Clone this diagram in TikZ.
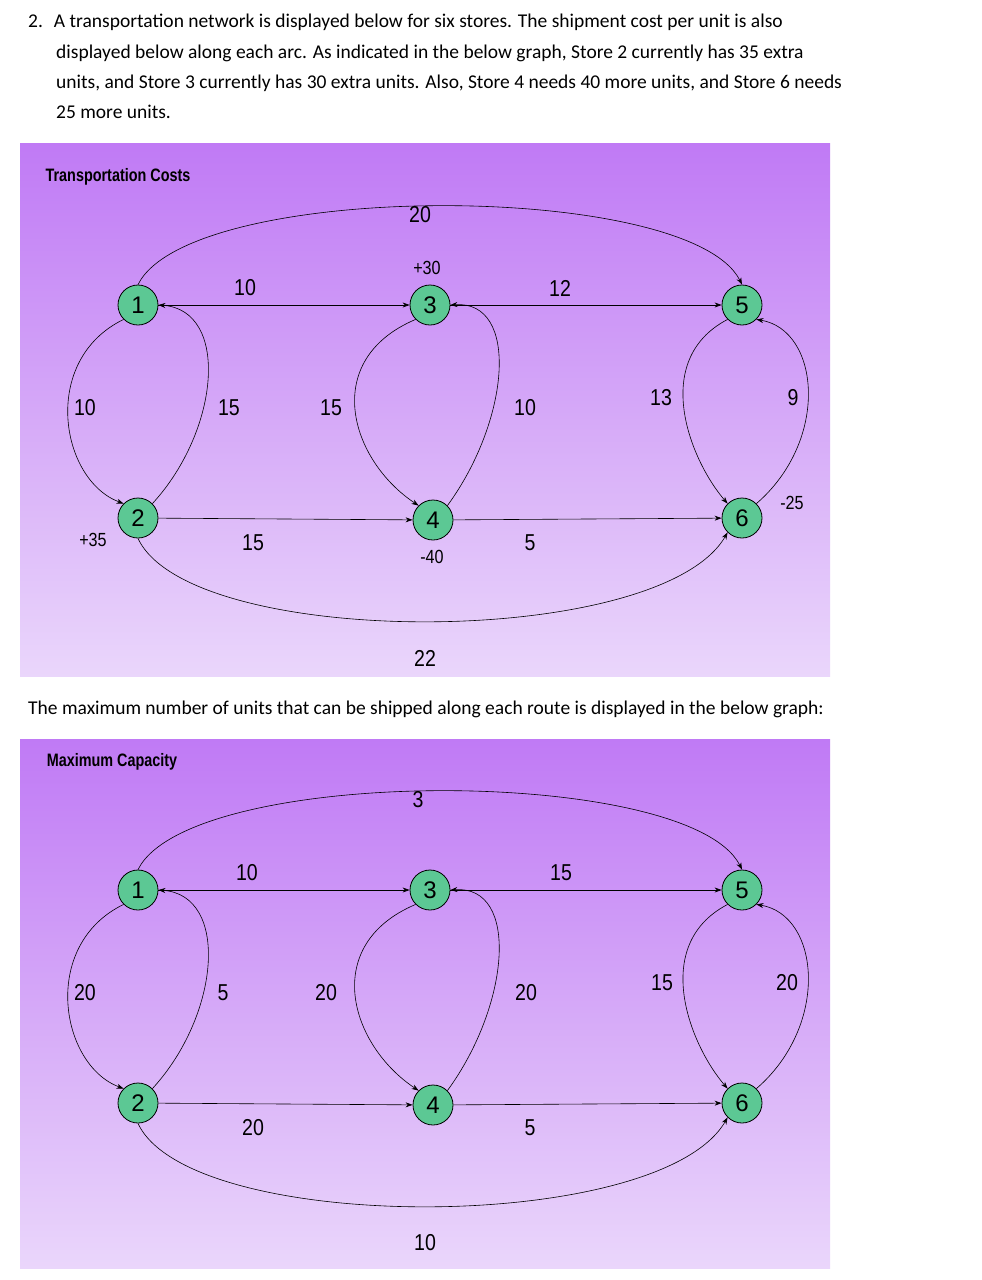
\documentclass[tikz,border=0pt]{standalone}
\usepackage{fontspec}
\setmainfont{Carlito}
\newfontfamily\grf{Liberation Sans}
\usetikzlibrary{arrows.meta}
\definecolor{ptop}{HTML}{C07AF5}
\definecolor{pbot}{HTML}{EAD6FB}
\definecolor{ngreen}{HTML}{5CC894}
\tikzset{
 store/.style={circle,draw=black,fill=ngreen,minimum size=40pt,inner sep=0pt,font=\grf\fontsize{24}{24}\selectfont,line width=0.8pt},
 arc/.style={draw=black,line width=0.6pt,-{Stealth[length=7pt,width=5pt]}},
 lab/.style={font=\grf\fontsize{23}{23}\selectfont\addfontfeature{FakeStretch=0.85}},
 slab/.style={font=\grf\fontsize{19}{19}\selectfont\addfontfeature{FakeStretch=0.85}},
 body/.style={anchor=base west,inner sep=0pt,font=\fontsize{19.5}{22}\selectfont},
 ttl/.style={font=\grf\bfseries\fontsize{18}{18}\selectfont\addfontfeature{FakeStretch=0.8}}
}
\newcommand\drawnet[1]{%
 \node[store] (#1a) at (138,305) {1};
 \node[store] (#1c) at (430,305) {3};
 \node[store] (#1e) at (742,305) {5};
 \node[store] (#1b) at (138,518) {2};
 \node[store] (#1d) at (433,520) {4};
 \node[store] (#1f) at (742,518) {6};
 \draw[arc] (#1a) -- (#1c);
 \draw[arc] (#1c) -- (#1e);
 \draw[arc] (#1b) -- (#1d);
 \draw[arc] (#1d) -- (#1f);
 \draw[arc] (#1a.north) .. controls (190,180) and (690,180) .. (#1e.north);
 \draw[arc] (#1b.south) .. controls (190,650) and (660,650) .. (#1f.south west);
 \draw[arc] (#1a.south west) .. controls (40,360) and (60,480) .. (#1b.north west);
 \draw[arc] (#1b.north east) .. controls (220,430) and (230,310) .. (#1a.east);
 \draw[arc] (#1c.south west) .. controls (320,360) and (350,460) .. (#1d.north west);
 \draw[arc] (#1d.north east) .. controls (510,420) and (520,300) .. (#1c.east);
 \draw[arc] (#1e.south west) .. controls (650,360) and (690,460) .. (#1f.north west);
 \draw[arc] (#1f.north east) .. controls (830,440) and (820,330) .. (#1e.south east);
}
\begin{document}
\begin{tikzpicture}[x=1pt,y=-1pt]
\useasboundingbox[fill=white] (0,0) rectangle (982,1280);
\node[body] (t1) at (28,27) {2.\hspace{11pt}A transportation network is displayed below for six stores. The shipment cost per unit is also};
\node[body] (t2) at (56,58) {displayed below along each arc. As indicated in the below graph, Store 2 currently has 35 extra};
\node[body] (t3) at (56,88) {units, and Store 3 currently has 30 extra units. Also, Store 4 needs 40 more units, and Store 6 needs};
\node[body] (t4) at (56,118) {25 more units.};
\node[body] (t5) at (28,714) {The maximum number of units that can be shipped along each route is displayed in the below graph:};
% panel 1
\shade[top color=ptop,bottom color=pbot] (20,143) rectangle (830,676);
\node[ttl] (h1) at (118,177) {Transportation Costs};
\drawnet{p}
\node[lab] at (420,215) {20};
\node[lab] at (245,288) {10};
\node[lab] at (560,288) {12};
\node[lab] at (85,408) {10};
\node[lab] at (229,408) {15};
\node[lab] at (331,408) {15};
\node[lab] at (525,408) {10};
\node[lab] at (661,398) {13};
\node[lab] at (793,398) {9};
\node[lab] at (253,543) {15};
\node[lab] at (530,543) {5};
\node[lab] at (425,658) {22};
\node[slab] at (427,268) {+30};
\node[slab] at (432,557) {-40};
\node[slab] at (93,540) {+35};
\node[slab] at (792,503) {-25};
% panel 2
\shade[top color=ptop,bottom color=pbot] (20,739) rectangle (830,1268);
\node[ttl] (h2) at (112,762) {Maximum Capacity};
\begin{scope}[yshift=-585pt]
\drawnet{q}
\end{scope}
\node[lab] at (418,800) {3};
\node[lab] at (247,873) {10};
\node[lab] at (561,873) {15};
\node[lab] at (85,993) {20};
\node[lab] at (223,993) {5};
\node[lab] at (326,993) {20};
\node[lab] at (526,993) {20};
\node[lab] at (662,983) {15};
\node[lab] at (787,983) {20};
\node[lab] at (253,1128) {20};
\node[lab] at (530,1128) {5};
\node[lab] at (425,1243) {10};
\end{tikzpicture}
\end{document}
